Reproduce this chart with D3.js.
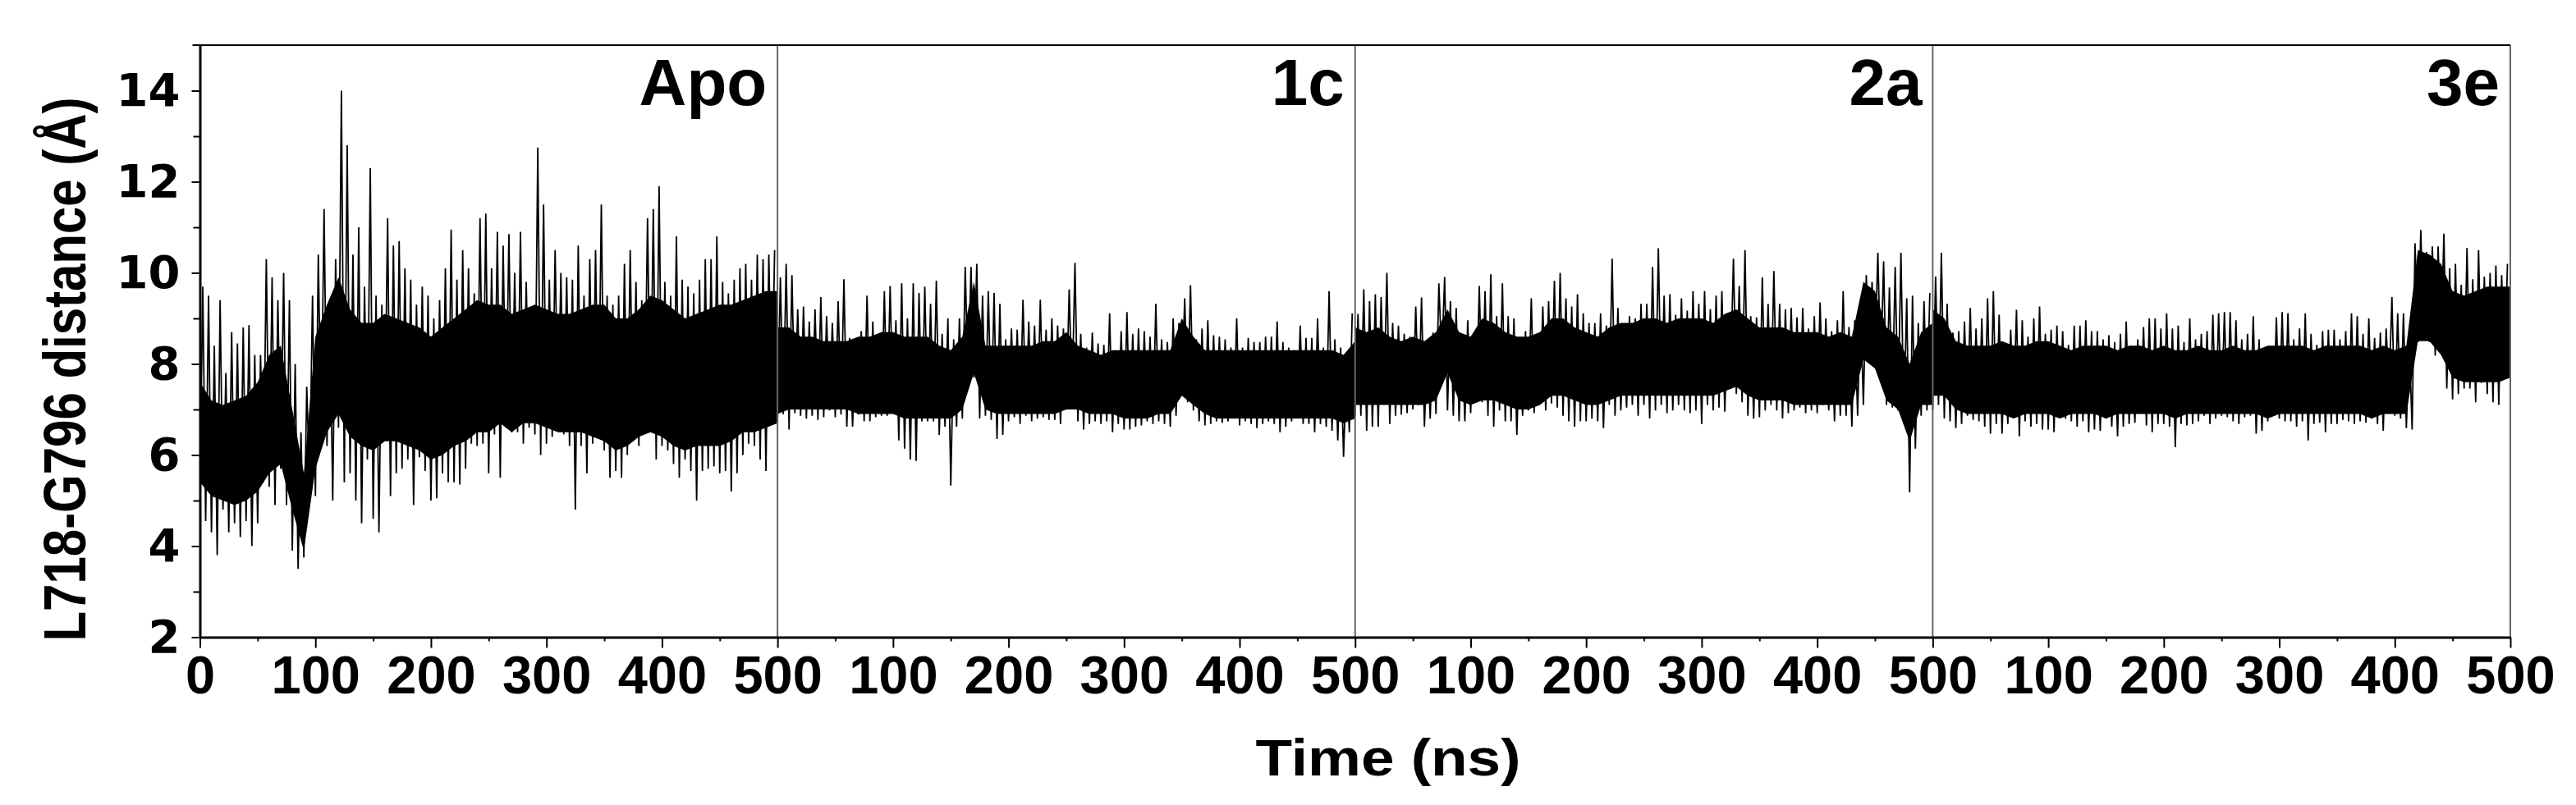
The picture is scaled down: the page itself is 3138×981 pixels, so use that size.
<!DOCTYPE html>
<html>
<head>
<meta charset="utf-8">
<script src="https://cdn.jsdelivr.net/npm/d3@7"></script>
<style>
  body { margin: 0; background: #fff; }
  svg { display: block; }
  .tick text { font-family: "Liberation Sans", Arial, sans-serif; font-weight: bold; }
</style>
</head>
<body>
<div id="chart"></div>
<script>
// Panels (one 500 ns trajectory each) and sampling steps
const panels = ["Apo", "1c", "2a", "3e"];
const panelLength = 500;
const coreStep = 10;   // ns between core band samples
const peakStep = 5;    // ns between extreme (spike) samples

// Y tick values
const yMajorTicks = [2, 4, 6, 8, 10, 12, 14];
const yMinorTicks = [3, 5, 7, 9, 11, 13];

// Apo: dense core band (every 10 ns) and extremes (every 5 ns), Å
const apoCoreLow = [5.4, 5.1, 5.0, 4.9, 5.0, 5.2, 5.6, 5.8, 4.8, 3.9, 5.7, 6.5, 6.9, 6.4, 6.2, 6.1, 6.3, 6.3, 6.2, 6.1,
  5.9, 6.0, 6.2, 6.3, 6.5, 6.5, 6.7, 6.5, 6.7, 6.7, 6.6, 6.5, 6.5, 6.5, 6.4, 6.3, 6.1, 6.2, 6.4, 6.5,
  6.4, 6.2, 6.1, 6.2, 6.2, 6.2, 6.3, 6.5, 6.5, 6.6, 6.7];
const apoCoreHigh = [7.6, 7.2, 7.1, 7.2, 7.3, 7.6, 8.2, 8.4, 7.0, 5.6, 8.6, 9.3, 9.9, 9.2, 8.9, 8.9, 9.1, 9.0, 8.9, 8.8,
  8.6, 8.8, 9.0, 9.2, 9.4, 9.3, 9.3, 9.1, 9.2, 9.3, 9.2, 9.1, 9.1, 9.2, 9.3, 9.3, 9.0, 9.0, 9.2, 9.5,
  9.4, 9.2, 9.0, 9.1, 9.2, 9.3, 9.3, 9.4, 9.5, 9.6, 9.6];
const apoPeakHigh = [9.7, 9.5, 8.4, 9.4, 7.8, 8.7, 8.45, 8.8, 8.85, 8.2,
  8.2, 10.3, 9.9, 9.4, 10.0, 9.4, 8.0, 6.5, 7.5, 9.5,
  10.4, 11.4, 9.3, 10.3, 14.0, 12.8, 10.4, 11.0, 9.7, 12.3,
  9.5, 9.3, 11.2, 10.6, 10.7, 10.1, 9.85, 9.3, 9.7, 9.5,
  9.0, 9.4, 10.1, 10.95, 9.85, 10.5, 10.1, 9.55, 11.2, 11.3,
  10.1, 10.9, 10.6, 10.85, 10.0, 10.9, 9.8, 9.0, 12.75, 11.5,
  9.85, 10.5, 10.0, 9.9, 9.85, 10.6, 9.5, 10.3, 10.5, 11.5,
  9.5, 9.3, 9.5, 10.2, 10.5, 9.8, 9.4, 11.2, 11.4, 11.9,
  9.8, 9.5, 10.8, 9.85, 9.7, 9.55, 9.85, 10.3, 10.3, 10.8,
  9.8, 9.55, 9.85, 10.1, 10.2, 9.85, 10.4, 10.3, 10.4, 10.5];
const apoPeakLow = [5.1, 4.55, 4.3, 3.8, 4.8, 4.3, 4.5, 4.2, 4.55, 4.0,
  4.5, 5.4, 5.3, 4.9, 5.7, 4.9, 3.9, 3.5, 3.75, 5.4,
  5.1, 6.4, 6.2, 5.0, 6.6, 5.4, 5.6, 5.0, 4.5, 5.9,
  4.6, 4.3, 6.5, 5.1, 5.6, 5.7, 5.9, 4.9, 5.95, 5.65,
  5.0, 5.05, 5.6, 5.4, 5.4, 5.35, 5.7, 6.25, 6.2, 6.25,
  5.6, 6.45, 5.5, 6.6, 6.5, 6.5, 6.25, 6.6, 6.45, 6.0,
  6.25, 6.4, 6.75, 6.45, 6.2, 4.8, 6.2, 5.6, 6.25, 6.4,
  6.1, 5.5, 5.65, 5.5, 6.0, 6.3, 6.2, 6.7, 6.6, 5.9,
  6.2, 6.1, 5.8, 5.5, 5.9, 5.65, 5.0, 5.65, 5.7, 5.75,
  5.6, 5.65, 5.2, 5.6, 6.0, 6.25, 6.2, 5.9, 5.65, 6.8];

// 1c
const c1CoreLow = [6.9, 7.0, 7.0, 7.0, 7.0, 7.0, 7.0, 6.9, 6.9, 6.9, 6.9, 6.8, 6.8, 6.8, 6.8, 6.8, 7.0, 7.8, 7.0, 6.9,
  6.9, 6.9, 6.9, 6.9, 6.9, 7.0, 7.0, 6.9, 6.9, 6.9, 6.8, 6.8, 6.8, 6.9, 6.9, 7.3, 7.1, 6.9, 6.8, 6.8,
  6.8, 6.8, 6.8, 6.8, 6.8, 6.8, 6.8, 6.8, 6.8, 6.7, 6.8];
const c1CoreHigh = [8.8, 8.8, 8.6, 8.6, 8.5, 8.5, 8.5, 8.6, 8.6, 8.7, 8.7, 8.6, 8.6, 8.6, 8.4, 8.3, 8.6, 9.8, 8.4, 8.4,
  8.4, 8.4, 8.4, 8.5, 8.5, 8.7, 8.4, 8.3, 8.2, 8.3, 8.3, 8.3, 8.3, 8.3, 8.3, 9.0, 8.6, 8.3, 8.3, 8.3,
  8.3, 8.3, 8.3, 8.3, 8.3, 8.3, 8.3, 8.3, 8.3, 8.2, 8.5];
const c1PeakHigh = [9.9, 10.2, 9.95, 9.2, 9.26, 8.93, 9.2, 9.47, 9.05, 8.9,
  9.38, 9.86, 8.57, 8.55, 8.72, 9.5, 8.93, 8.48, 9.6, 9.71,
  8.96, 9.77, 9.0, 9.77, 9.56, 9.7, 9.32, 9.83, 8.66, 9.0,
  8.54, 9.0, 10.13, 10.13, 10.2, 9.5, 9.6, 9.56, 9.32, 8.54,
  8.78, 8.75, 9.41, 8.93, 8.84, 9.41, 8.75, 9.0, 8.84, 8.78,
  9.64, 10.22, 8.66, 8.36, 8.69, 8.45, 8.42, 9.11, 8.24, 8.72,
  9.14, 8.66, 8.78, 8.72, 8.6, 9.32, 8.54, 8.48, 9.0, 8.9,
  9.44, 9.73, 8.54, 8.78, 8.96, 8.63, 8.6, 8.54, 8.36, 9.0,
  8.36, 8.57, 8.48, 8.48, 8.6, 8.6, 8.93, 8.48, 8.36, 8.3,
  8.84, 8.57, 8.57, 9.0, 8.36, 9.6, 8.54, 8.36, 7.94, 9.11];
const c1PeakLow = [6.74, 6.89, 6.56, 6.92, 6.86, 6.8, 6.86, 6.77, 6.83, 6.98,
  6.83, 6.89, 6.62, 6.62, 6.89, 6.74, 6.74, 6.83, 6.86, 6.86,
  6.98, 6.32, 6.14, 5.9, 5.87, 6.74, 6.74, 6.74, 6.44, 6.62,
  5.33, 6.62, 6.8, 7.5, 7.7, 6.8, 6.86, 6.77, 6.35, 6.44,
  6.74, 6.83, 6.68, 6.86, 6.74, 6.8, 6.83, 6.77, 6.77, 6.68,
  7.1, 7.2, 6.74, 6.56, 6.68, 6.74, 6.68, 6.74, 6.5, 6.68,
  6.56, 6.56, 6.62, 6.65, 6.74, 6.68, 6.74, 6.68, 6.62, 6.86,
  7.4, 7.16, 6.98, 6.74, 6.65, 6.68, 6.74, 6.71, 6.74, 6.8,
  6.65, 6.74, 6.68, 6.59, 6.68, 6.74, 6.68, 6.5, 6.62, 6.74,
  6.92, 6.68, 6.68, 6.5, 6.68, 6.62, 6.53, 6.32, 5.96, 6.5];

// 2a
const a2CoreLow = [7.1, 7.1, 7.1, 7.1, 7.1, 7.1, 7.1, 7.2, 7.8, 7.2, 7.1, 7.2, 7.2, 7.1, 7.0, 7.0, 7.1, 7.3, 7.3, 7.2,
  7.1, 7.1, 7.2, 7.3, 7.3, 7.3, 7.3, 7.3, 7.3, 7.3, 7.3, 7.3, 7.4, 7.5, 7.3, 7.2, 7.2, 7.2, 7.1, 7.1,
  7.1, 7.1, 7.1, 7.1, 8.1, 7.9, 7.2, 7.0, 6.3, 7.1, 7.1];
const a2CoreHigh = [8.8, 8.7, 8.8, 8.6, 8.5, 8.6, 8.5, 8.7, 9.2, 8.7, 8.6, 9.0, 8.9, 8.7, 8.6, 8.6, 8.7, 9.0, 9.0, 8.8,
  8.7, 8.6, 8.8, 8.9, 8.9, 9.0, 9.0, 8.9, 9.0, 9.0, 9.0, 8.9, 9.1, 9.2, 9.0, 8.8, 8.8, 8.8, 8.7, 8.7,
  8.7, 8.6, 8.7, 8.6, 9.8, 9.6, 8.8, 8.6, 8.0, 8.7, 8.9];
const a2PeakHigh = [9.1, 9.64, 9.38, 9.53, 9.47, 10.0, 8.9, 8.84, 8.66, 8.6,
  9.26, 9.46, 8.36, 8.69, 9.77, 9.91, 9.38, 9.23, 8.57, 8.96,
  8.57, 9.71, 9.6, 9.97, 9.05, 9.77, 9.05, 9.0, 8.57, 8.72,
  9.44, 8.63, 9.26, 9.38, 9.83, 10.0, 9.44, 9.26, 9.53, 9.11,
  8.9, 8.9, 9.11, 8.84, 10.31, 9.23, 8.57, 9.05, 9.0, 9.32,
  9.32, 10.13, 10.54, 9.5, 9.53, 9.08, 9.44, 9.17, 9.6, 9.32,
  9.6, 9.2, 9.5, 9.6, 9.02, 10.31, 9.71, 10.5, 9.05, 9.02,
  9.9, 9.32, 10.04, 9.32, 9.2, 9.23, 9.02, 9.23, 8.78, 9.05,
  9.35, 9.0, 8.72, 8.96, 9.6, 8.81, 8.96, 9.38, 9.95, 9.8,
  10.44, 10.25, 9.68, 10.13, 10.44, 9.44, 9.5, 8.9, 9.38, 9.56];
const a2PeakLow = [6.86, 6.86, 6.53, 6.62, 6.62, 7.22, 6.68, 6.86, 6.89, 6.92,
  7.0, 7.1, 6.62, 6.8, 6.9, 8.1, 6.98, 6.86, 6.74, 6.74,
  6.92, 7.2, 7.16, 6.86, 6.62, 6.98, 6.74, 6.74, 6.44, 6.86,
  6.98, 6.92, 7.16, 6.98, 7.13, 7.04, 6.86, 6.74, 6.62, 6.74,
  6.74, 6.8, 6.74, 6.59, 7.1, 6.86, 6.98, 7.04, 7.1, 6.86,
  7.1, 6.8, 6.98, 7.1, 6.92, 6.98, 7.1, 6.98, 6.92, 6.98,
  6.68, 7.1, 6.98, 7.04, 6.95, 7.7, 7.34, 7.16, 6.86, 6.8,
  6.83, 6.98, 7.1, 6.98, 6.8, 6.92, 6.98, 7.04, 6.92, 6.98,
  6.92, 7.1, 6.98, 6.74, 6.86, 6.86, 6.62, 6.86, 7.1, 8.24,
  8.18, 7.82, 7.1, 7.04, 6.98, 6.74, 5.18, 6.14, 6.86, 6.98];

// 3e
const e3CoreLow = [7.3, 7.3, 7.0, 6.9, 6.9, 6.9, 6.9, 6.8, 6.9, 6.9, 6.9, 6.8, 6.9, 6.9, 6.9, 6.8, 6.9, 6.9, 6.9, 6.9,
  6.9, 6.8, 6.9, 6.9, 6.9, 6.9, 6.9, 6.9, 6.9, 6.8, 6.9, 6.9, 6.9, 6.9, 6.9, 6.9, 6.9, 6.9, 6.8, 6.9,
  6.9, 6.9, 8.5, 8.5, 8.2, 7.7, 7.6, 7.6, 7.6, 7.6, 7.7];
const e3CoreHigh = [9.2, 9.0, 8.5, 8.4, 8.4, 8.4, 8.5, 8.4, 8.4, 8.5, 8.5, 8.4, 8.3, 8.4, 8.4, 8.4, 8.3, 8.4, 8.4, 8.3,
  8.4, 8.3, 8.3, 8.4, 8.3, 8.3, 8.4, 8.3, 8.3, 8.4, 8.4, 8.4, 8.4, 8.3, 8.4, 8.4, 8.4, 8.4, 8.3, 8.4,
  8.3, 8.4, 10.5, 10.4, 10.2, 9.6, 9.5, 9.6, 9.7, 9.7, 9.7];
const e3PeakHigh = [9.92, 10.44, 9.32, 8.69, 8.72, 8.93, 9.23, 8.78, 9.0, 9.44,
  9.6, 9.08, 8.36, 8.75, 9.19, 8.96, 8.6, 9.0, 9.26, 8.66,
  8.75, 8.84, 8.72, 8.42, 8.84, 8.84, 8.96, 8.72, 8.72, 8.54,
  8.63, 8.48, 8.66, 8.93, 8.09, 8.54, 8.81, 9.0, 9.0, 8.78,
  9.11, 8.78, 8.84, 8.48, 9.0, 8.54, 8.66, 8.72, 9.08, 9.11,
  9.14, 9.14, 8.96, 8.54, 8.66, 9.05, 8.54, 8.36, 8.24, 9.02,
  9.14, 9.11, 8.54, 8.78, 9.11, 8.66, 8.42, 8.72, 8.75, 8.75,
  8.54, 8.72, 9.11, 9.05, 8.66, 9.0, 8.57, 8.69, 8.78, 9.47,
  9.11, 9.11, 8.54, 10.65, 10.94, 10.46, 10.58, 10.58, 10.86, 10.1,
  10.2, 9.74, 10.55, 9.86, 10.5, 9.92, 10.0, 10.16, 9.95, 10.2];
const e3PeakLow = [7.0, 7.1, 6.8, 6.74, 6.59, 6.68, 6.86, 6.77, 6.74, 6.62,
  6.47, 6.68, 6.47, 6.68, 6.92, 6.41, 6.74, 6.62, 6.68, 6.56,
  6.56, 6.5, 6.83, 6.8, 6.74, 6.62, 6.74, 6.5, 6.56, 6.53,
  6.8, 6.62, 6.41, 6.62, 6.68, 6.71, 6.92, 6.65, 6.5, 6.68,
  6.68, 6.62, 6.17, 6.68, 6.65, 6.68, 6.74, 6.86, 6.68, 6.8,
  6.86, 6.83, 6.74, 6.68, 6.83, 6.86, 6.47, 6.53, 6.74, 6.86,
  6.8, 6.74, 6.74, 6.62, 6.74, 6.32, 6.68, 6.71, 6.5, 6.68,
  6.68, 6.77, 6.74, 6.68, 6.74, 6.71, 6.8, 6.68, 6.53, 7.4,
  6.86, 6.8, 6.59, 6.56, 8.48, 8.54, 8.48, 8.18, 8.42, 7.46,
  7.22, 7.34, 7.46, 7.46, 7.16, 7.58, 7.34, 7.16, 7.1, 7.7];

const coreLows = [apoCoreLow, c1CoreLow, a2CoreLow, e3CoreLow];
const coreHighs = [apoCoreHigh, c1CoreHigh, a2CoreHigh, e3CoreHigh];
const peakLows = [apoPeakLow, c1PeakLow, a2PeakLow, e3PeakLow];
const peakHighs = [apoPeakHigh, c1PeakHigh, a2PeakHigh, e3PeakHigh];

// Set dimensions and margins
const margin = { top: 55, right: 80, bottom: 204.5, left: 243.5 };
const width = 3138 - margin.left - margin.right;
const height = 981 - margin.top - margin.bottom;
const total = panelLength * panels.length;

const svg = d3.select("#chart")
  .append("svg")
  .attr("width", 3138)
  .attr("height", 981)
  .append("g")
  .attr("transform", `translate(${margin.left},${margin.top})`);

// Scales: one continuous time axis for the four runs
const x = d3.scaleLinear().domain([0, total]).range([0, width]);
const y = d3.scaleLinear().domain([2, 15]).range([height, 0]);

svg.append("clipPath").attr("id", "plot-clip")
  .append("rect").attr("width", width).attr("height", height);

const traces = svg.append("g").attr("clip-path", "url(#plot-clip)");

const area = d3.area()
  .x(d => x(d.t))
  .y0(d => y(d.lo))
  .y1(d => y(d.hi));

const line = d3.line()
  .x(d => x(d.t))
  .y(d => y(d.v));

panels.forEach((name, k) => {
  const offset = k * panelLength;

  // dense core of the trace
  const core = coreLows[k].map((lo, i) => ({ t: offset + i * coreStep, lo: lo, hi: coreHighs[k][i] }));
  traces.append("path")
    .datum(core)
    .attr("fill", "#000")
    .attr("d", area);

  // extremes: alternate low / high readings
  const pts = [];
  peakLows[k].forEach((lo, i) => {
    pts.push({ t: offset + i * peakStep, v: lo });
    pts.push({ t: offset + i * peakStep + peakStep / 2, v: peakHighs[k][i] });
  });
  traces.append("path")
    .datum(pts)
    .attr("fill", "none")
    .attr("stroke", "#000")
    .attr("stroke-width", 1.8)
    .attr("stroke-linejoin", "miter")
    .attr("d", line);
});

// Panel separators and right frame
svg.selectAll(".sep")
  .data(d3.range(1, panels.length + 1))
  .enter()
  .append("line")
  .attr("class", "sep")
  .attr("x1", d => x(d * panelLength))
  .attr("x2", d => x(d * panelLength))
  .attr("y1", 0)
  .attr("y2", height)
  .attr("stroke", "#666")
  .attr("stroke-width", 2);

// Top frame
svg.append("line")
  .attr("x1", -9).attr("x2", width)
  .attr("y1", 0).attr("y2", 0)
  .attr("stroke", "#000")
  .attr("stroke-width", 2);

// Panel labels
svg.selectAll(".panel-label")
  .data(panels)
  .enter()
  .append("text")
  .attr("class", "panel-label")
  .attr("x", (d, k) => x((k + 1) * panelLength) - 13)
  .attr("y", 73)
  .attr("text-anchor", "end")
  .style("font-family", "'Liberation Sans', Arial, sans-serif")
  .style("font-weight", "bold")
  .style("font-size", "80px")
  .text(d => d);

// X axis: majors every 100 ns, labels restart in each panel
const xMajor = d3.range(0, total + 1, 100);
const xMinor = d3.range(50, total, 100);

svg.append("g")
  .attr("transform", `translate(0,${height})`)
  .call(d3.axisBottom(x).tickValues(xMinor).tickSize(5).tickSizeOuter(0).tickFormat(""))
  .call(g => g.select(".domain").remove())
  .call(g => g.selectAll(".tick line").attr("stroke-width", 2));

svg.append("g")
  .attr("transform", `translate(0,${height})`)
  .call(d3.axisBottom(x).tickValues(xMajor).tickSize(13).tickSizeOuter(0).tickPadding(9)
    .tickFormat(d => d === 0 ? "0" : (d % panelLength === 0 ? String(panelLength) : String(d % panelLength))))
  .call(g => g.select(".domain").attr("stroke-width", 3))
  .call(g => g.selectAll(".tick line").attr("stroke-width", 2))
  .call(g => g.selectAll(".tick text").attr("fill", "#000").style("font-size", "65px"));

// Y axis
svg.append("g")
  .call(d3.axisLeft(y).tickValues(yMinorTicks).tickSize(8).tickSizeOuter(0).tickFormat(""))
  .call(g => g.select(".domain").remove())
  .call(g => g.selectAll(".tick line").attr("stroke-width", 2));

svg.append("g")
  .call(d3.axisLeft(y).tickValues(yMajorTicks).tickSize(10).tickSizeOuter(0).tickPadding(14))
  .call(g => g.select(".domain").attr("stroke-width", 3))
  .call(g => g.selectAll(".tick line").attr("stroke-width", 2))
  .call(g => g.selectAll(".tick text")
    .attr("fill", "#000")
    .style("font-family", "'DejaVu Sans', sans-serif")
    .style("font-size", "56px"));

// Axis titles
svg.append("text")
  .attr("x", 1691 - margin.left)
  .attr("y", 945 - margin.top)
  .attr("text-anchor", "middle")
  .attr("textLength", 323)
  .attr("lengthAdjust", "spacingAndGlyphs")
  .style("font-family", "'Liberation Sans', Arial, sans-serif")
  .style("font-weight", "bold")
  .style("font-size", "63px")
  .text("Time (ns)");

svg.append("text")
  .attr("transform", `translate(${104 - margin.left},${450 - margin.top}) rotate(-90)`)
  .attr("text-anchor", "middle")
  .attr("textLength", 663)
  .attr("lengthAdjust", "spacingAndGlyphs")
  .style("font-family", "'Liberation Sans', Arial, sans-serif")
  .style("font-weight", "bold")
  .style("font-size", "72px")
  .text("L718-G796 distance (Å)");
</script>
</body>
</html>
